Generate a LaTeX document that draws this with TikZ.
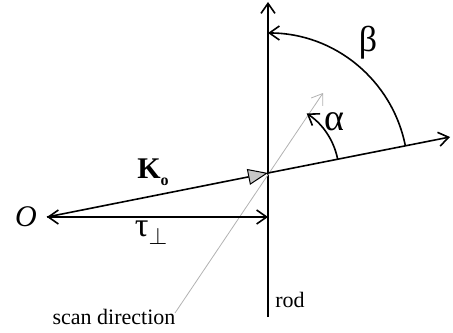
\documentclass[tikz,border=0pt]{standalone}
\usepackage{fontspec}
\setmainfont{Liberation Serif}
\usetikzlibrary{arrows.meta, calc}
\begin{document}
\begin{tikzpicture}[x=0.5pt, y=0.5pt, >={Straight Barb[length=5pt,width=7pt]}, line width=0.8pt,
	scanline/.style={gray!60, line width=0.4pt},
	lbl/.style={inner sep=0pt}]
	\useasboundingbox (0,0) rectangle (453,332);
	
	% punkte
	\coordinate (P) at (268,159);
	\coordinate (O) at (47,115);
	\coordinate (T) at (268,115);
	\coordinate (Kend) at (450,195);
	\coordinate (rodbot) at (268,15);
	\coordinate (rodtop) at (268,330);
	\coordinate (scanbot) at (175,19);
	\coordinate (scantop) at (323,239);
	
	% stab
	\draw[->] (rodbot) -- (rodtop);
	\node[lbl] (rod) at (290,32) {\fontsize{11}{13}\selectfont rod};
	
	% scanrichtung
	\draw[scanline, ->] (scanbot) -- (scantop);
	\node[lbl] (scan) at (114,15) {\fontsize{11}{13}\selectfont scan direction};
	
	% wellenvektor
	\draw[-{Triangle[length=10pt,width=8pt,fill=gray!45,line width=0.5pt]}] (O) -- (P);
	\draw[->] (P) -- (Kend);
	\draw[<->] (O) -- (T);
	
	% winkel
	\draw[->] ($(P)+(11.25:71)$) arc[start angle=11.25, end angle=57, radius=35.5pt];
	\draw[->] ($(P)+(11.25:140)$) arc[start angle=11.25, end angle=90, radius=70pt];
	
	% beschriftung
	\node[lbl] (Olbl) at (26,115) {\fontsize{15}{17}\selectfont\itshape O};
	\node[lbl] (Klbl) at (153,160) {\fontsize{15}{17}\selectfont\bfseries K\raisebox{-0.5ex}{\fontsize{8}{9}\selectfont o}};
	\node[lbl] (tau) at (151,99) {\fontsize{17}{19}\selectfont τ\raisebox{-0.5ex}{$\scriptstyle\perp$}};
	\node[lbl] (alpha) at (334,210) {\fontsize{19}{21}\selectfont α};
	\node[lbl] (beta) at (368,289) {\fontsize{18}{20}\selectfont β};
\end{tikzpicture}
\end{document}
